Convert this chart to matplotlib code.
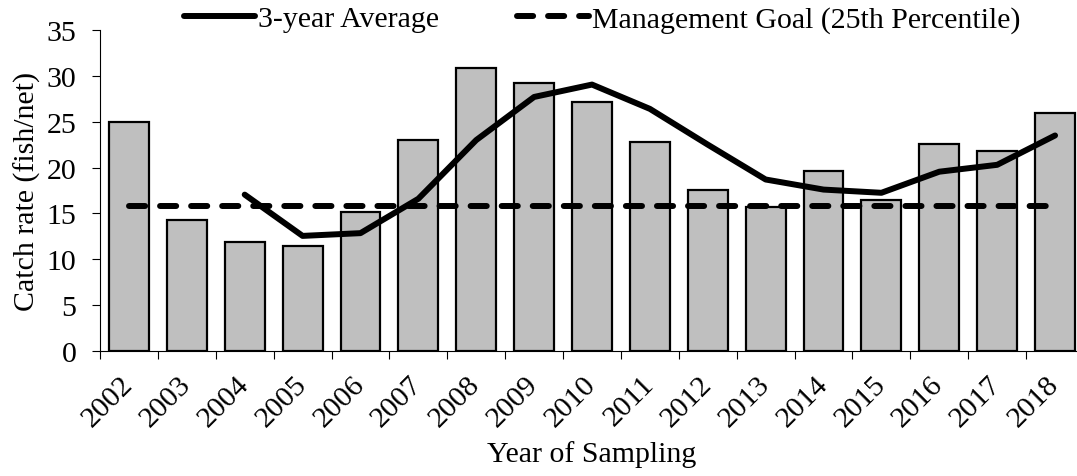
import numpy as np
import matplotlib.pyplot as plt

# catch rates by sampling year
years = ['2002', '2003', '2004', '2005', '2006', '2007', '2008', '2009', '2010',
         '2011', '2012', '2013', '2014', '2015', '2016', '2017', '2018']
catch_rate = [25.0, 14.3, 11.85, 11.45, 15.2, 23.0, 30.85, 29.2, 27.15,
              22.8, 17.55, 15.65, 19.6, 16.45, 22.55, 21.85, 26.0]
# 3-year running average, first value in 2004
avg_years = years[2:]
avg_3yr = [17.05, 12.55, 12.85, 16.6, 23.0, 27.7, 29.05, 26.4, 22.5,
           18.7, 17.6, 17.25, 19.55, 20.3, 23.5]
goal = 15.8

plt.rcParams['font.family'] = ['Liberation Serif', 'DejaVu Serif']
plt.rcParams['font.size'] = 21.5

fig = plt.figure(figsize=(10.77, 4.77), dpi=100)
ax = fig.add_axes([100 / 1077, 125 / 477, 984 / 1077, 321 / 477])

x = np.arange(len(years))
ax.bar(x, catch_rate, width=0.69, color='#BFBFBF', edgecolor='black',
       linewidth=1.6, zorder=2)

xa = [years.index(y) for y in avg_years]
ax.plot(xa, avg_3yr, color='black', linewidth=4.3, solid_capstyle='round',
        label='3-year Average', zorder=3)
ax.plot([x[0], x[-1]], [goal, goal], color='black', linewidth=4.3,
        linestyle=(0, (2.7, 2.5)), dash_capstyle='round',
        label='Management Goal (25th Percentile)', zorder=3)

ax.set_xlim(-0.5, len(years) - 0.5)
ax.set_ylim(0, 35)
ax.set_yticks(range(0, 36, 5))

ax.set_xticks(x)
ax.set_xticklabels(years, rotation=45, ha='right', va='center',
                   rotation_mode='anchor')
ax.set_xticks(np.arange(-0.5, len(years), 1), minor=True)
ax.tick_params(axis='x', which='major', length=0, pad=21)
ax.tick_params(axis='x', which='minor', length=6, width=0.8, direction='out')
ax.tick_params(axis='y', length=6, width=0.8, direction='out', pad=11)

for s in ['top', 'right']:
    ax.spines[s].set_visible(False)
for s in ['left', 'bottom']:
    ax.spines[s].set_linewidth(0.8)

ax.set_ylabel('Catch rate (fish/net)', labelpad=4)
ax.set_xlabel('Year of Sampling', labelpad=6)

fig.legend(loc='center', bbox_to_anchor=(602 / 1077, 1 - 20 / 477),
           bbox_transform=fig.transFigure, ncol=2, frameon=False,
           handlelength=2.4, handletextpad=0.1, columnspacing=2.6,
           borderaxespad=0, borderpad=0)

fig.savefig('out.png', dpi=100)
